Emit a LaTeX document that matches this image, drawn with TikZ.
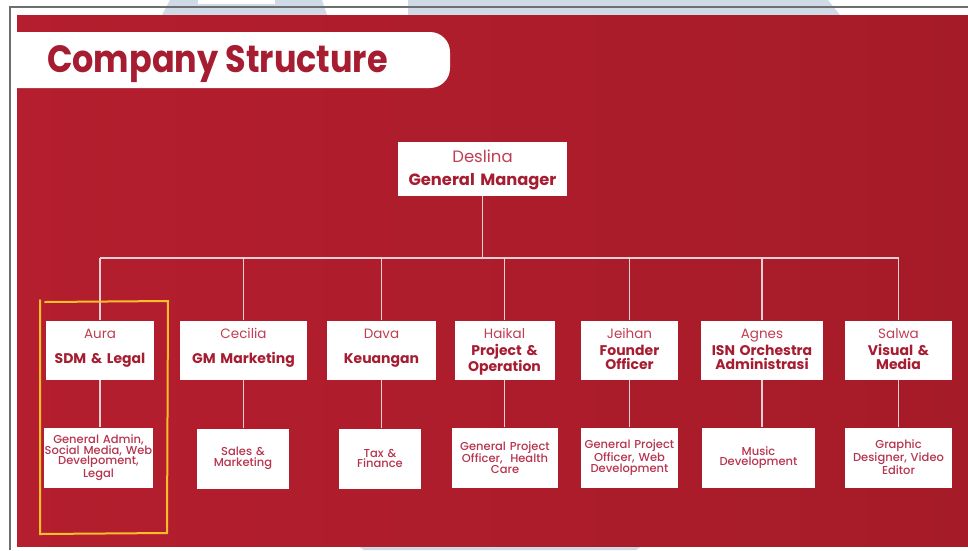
\documentclass[tikz,border=0pt]{standalone}
\usepackage{fontspec}
\setmainfont{Poppins}
\newfontfamily\medfont{Poppins Medium}
\definecolor{bgredL}{RGB}{180,30,46}
\definecolor{bgredR}{RGB}{166,27,40}
\definecolor{roleC}{RGB}{166,28,48}
\definecolor{nameC}{RGB}{192,62,84}
\definecolor{subC}{RGB}{182,52,78}
\definecolor{linkC}{RGB}{236,206,211}
\definecolor{hiC}{RGB}{250,190,45}
\definecolor{wmC}{RGB}{206,219,231}
\definecolor{frameC}{RGB}{110,110,110}
\newcommand{\nm}[1]{{\color{nameC}\fontsize{13.5}{14}\selectfont #1}}
\newcommand{\rl}[1]{{\color{roleC}\bfseries #1}}
\begin{document}
\begin{tikzpicture}[x=1pt,y=-1pt,
  topbox/.style={fill=white, inner xsep=0pt, inner ysep=0pt, text width=#1, align=center,
    text height=18pt, text depth=41pt, font=\fontsize{14}{14.3}\selectfont},
  subbox/.style={fill=white, inner xsep=0pt, inner ysep=0pt, text width=#1, align=center,
    minimum height=60pt, text=subC, font=\medfont\fontsize{11.5}{10.8}\selectfont},
  link/.style={draw=linkC, line width=1.4pt}]
\useasboundingbox (0,0) rectangle (968,550);
\fill[white] (0,0) rectangle (968,550);
% faint watermark shapes in the margins
\fill[wmC] (170,0) -- (322,0) -- (327,15) -- (162,15) -- cycle;
\fill[wmC] (408,0) -- (828,0) -- (840,15) -- (408,15) -- cycle;
\fill[wmC] (358,546) -- (642,546) -- (636,550) -- (364,550) -- cycle;
\fill[white] (198,0) rectangle (275,4);
\draw[frameC, line width=1.2pt] (10,550) -- (10,7) -- (968,7);
% red background
\shade[left color=bgredL, right color=bgredR] (17,15) rectangle (968,546);
% title pill
\fill[white] (17,32) -- (430,32) arc[start angle=-90, end angle=0, radius=20]
  -- (450,68) arc[start angle=0, end angle=90, radius=20] -- (17,88) -- cycle;
\node[anchor=base west, text=roleC, font=\fontsize{38}{38}\selectfont\bfseries, inner sep=0] (title) at (47,72)
  {\scalebox{0.88}[1]{Company Structure}};
% general manager
\node[fill=white, inner xsep=0pt, inner ysep=0pt, text width=169pt, align=center,
  text height=20pt, text depth=34pt, font=\fontsize{16.3}{23}\selectfont] (gm) at (482.5,169)
  {{\color{nameC}\fontsize{16.5}{23}\selectfont Deslina}\\\rl{General Manager}};
% second row
\node[topbox=108pt] (aura) at (100,350) {\nm{Aura}\\[10.3pt]\rl{SDM \& Legal}};
\node[topbox=127pt] (cecilia) at (243.5,350) {\nm{Cecilia}\\[10.3pt]\rl{GM Marketing}};
\node[topbox=109pt] (dava) at (381.5,350) {\nm{Dava}\\[10.3pt]\rl{Keuangan}};
\node[topbox=100pt] (haikal) at (504.5,350) {\nm{Haikal}\\[2.7pt]\rl{Project \&\\Operation}};
\node[topbox=97pt] (jeihan) at (629.5,350) {\nm{Jeihan}\\[2.7pt]\rl{Founder\\Officer}};
\node[topbox=122pt] (agnes) at (762,350) {\nm{Agnes}\\[2.7pt]\rl{ISN Orchestra\\Administrasi}};
\node[topbox=107pt] (salwa) at (898.5,350) {\nm{Salwa}\\[2.7pt]\rl{Visual \&\\Media}};
% third row
\node[subbox=109pt] (aurasub) at (98.5,457.5) {General Admin,\\Social Media, Web\\Develpoment,\\Legal};
\node[subbox=92pt] (ceciliasub) at (243,458.5) {Sales \&\\Marketing};
\node[subbox=82pt] (davasub) at (380,458.5) {Tax \&\\Finance};
\node[subbox=106pt] (haikalsub) at (505,457.5) {General Project\\Officer,\ \ Health\\Care};
\node[subbox=97pt] (jeihansub) at (629.5,457.5) {General Project\\Officer, Web\\Development};
\node[subbox=113pt] (agnessub) at (758.5,457.5) {Music\\Development};
\node[subbox=107pt] (salwasub) at (898.5,457.5) {Graphic\\Designer, Video\\Editor};
% connectors
\coordinate (bus) at (482.5,258);
\draw[link] (gm.south) -- (gm.south |- bus);
\draw[link] (aura.north |- bus) -- (salwa.north |- bus);
\foreach \n in {aura,cecilia,dava,haikal,jeihan,agnes,salwa}{
  \draw[link] (\n.north |- bus) -- (\n.north);
  \draw[link] (\n.south) -- (\n.south |- \n sub.north);
}
% hand-drawn highlight
\draw[hiC, line width=2pt, line cap=round] (45,302) -- (168,301) -- (167,533) -- (40,534) -- (40,300);
\end{tikzpicture}
\end{document}
